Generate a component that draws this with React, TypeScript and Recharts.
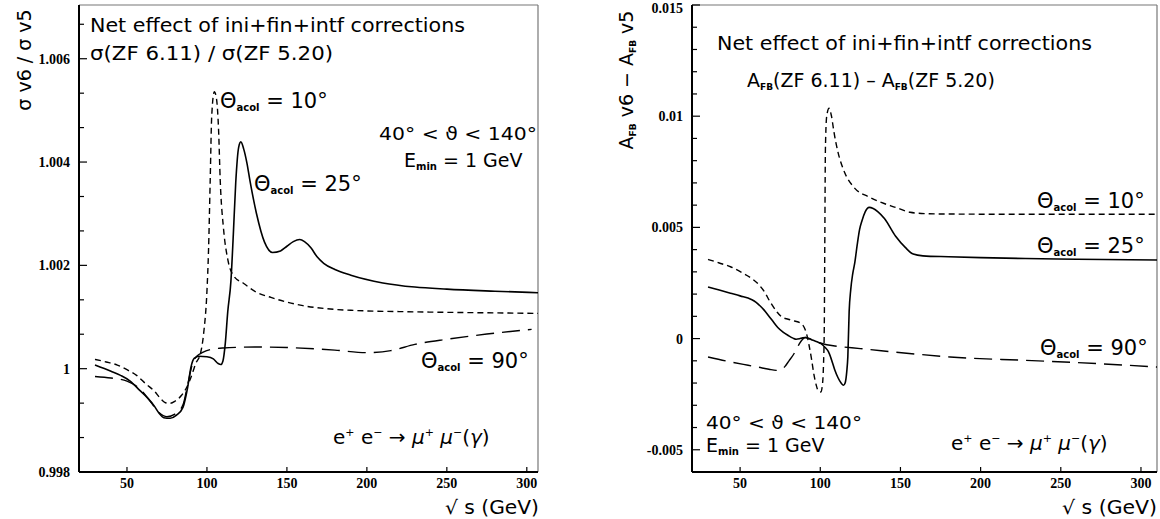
import React from 'react'
import { LineChart, Line, XAxis, YAxis, ReferenceLine } from 'recharts'

// sqrt(s) in GeV
const sigma25: [number, number][] = [
  [30, 1.00007], [40, 0.99995], [46, 0.99987], [52, 0.99976], [58, 0.99958], [63, 0.99943],
  [67, 0.99928], [70, 0.99914], [73, 0.99905], [77, 0.99904], [81, 0.9991], [85, 0.99925],
  [88, 0.99965], [90, 1.00003], [92, 1.0002], [95, 1.00024], [100, 1.00023], [104, 1.00019],
  [107, 1.0001], [108.7, 1.00008], [110, 1.00015], [111.5, 1.0005], [113, 1.0011], [115, 1.0017],
  [116.5, 1.0026], [118, 1.0036], [119.8, 1.00428], [121.2, 1.00439], [123, 1.00425], [125, 1.00398],
  [127, 1.00362], [131, 1.003], [136, 1.00245], [141, 1.00225], [146, 1.00228], [150, 1.00237],
  [154, 1.00246], [158, 1.0025], [161, 1.00246], [165, 1.00234], [169, 1.00216], [173, 1.00204],
  [180, 1.00192], [190, 1.00181], [210, 1.00166], [230, 1.00158], [250, 1.00154], [280, 1.0015],
  [307, 1.00147],
]
const sigma10: [number, number][] = [
  [30, 1.00018], [37, 1.00013], [44, 1.00007], [50, 0.99998], [56, 0.99987], [62, 0.9997],
  [67, 0.99957], [71, 0.99942], [74, 0.99934], [77, 0.99933], [80, 0.99937], [84, 0.99948],
  [88, 0.99968], [91, 0.99992], [93, 1.0001], [96, 1.0003], [98, 1.0007], [100, 1.0015],
  [101, 1.0023], [102, 1.0036], [103, 1.0049], [104.6, 1.00536], [106, 1.00522], [107.3, 1.0046],
  [108.3, 1.00365], [110.4, 1.0027], [113, 1.00212], [116.6, 1.0018], [123, 1.00165], [131, 1.00148],
  [140, 1.00138], [150, 1.00129], [160, 1.00122], [175, 1.00116], [190, 1.00113], [230, 1.0011],
  [280, 1.00108], [307, 1.00107],
]
const sigma90: [number, number][] = [
  [30, 0.99985], [40, 0.99982], [50, 0.99976], [58, 0.99961], [65, 0.99935], [70, 0.99915],
  [75, 0.99907], [80, 0.99912], [85, 0.9993], [88, 0.9997], [91, 1.0001], [94, 1.00025],
  [97, 1.00031], [102, 1.00037], [110, 1.0004], [130, 1.00042], [150, 1.00041], [180, 1.00036],
  [200, 1.00031], [215, 1.00035], [230, 1.00047], [250, 1.00057], [275, 1.00067], [303, 1.00076],
]

const afb25: [number, number][] = [
  [30, 0.00232], [37, 0.00218], [44, 0.00204], [50, 0.00192], [57, 0.00176], [60, 0.00163],
  [62, 0.0015], [65, 0.00128], [67.5, 0.00105], [70, 0.00082], [73.5, 0.0005], [77, 0.00028],
  [80, 0.00014], [83, 0.00002], [85, -0.00003], [87, -0.00001], [89, 0.00003], [91, 0.00005],
  [93, 0.0], [95.5, -0.00008], [98, -0.00014], [100.5, -0.00023], [103, -0.0004], [105, -0.00058],
  [107, -0.00095], [109, -0.0014], [111, -0.00175], [113, -0.002], [114.5, -0.0021], [115.5, -0.002],
  [116.5, -0.0015], [117.2, -0.0008], [118, 0.0012], [119, 0.0022], [120.2, 0.0029], [121.5, 0.0034],
  [123, 0.0042], [124.5, 0.0049], [126, 0.0053], [128, 0.0057], [130.5, 0.0059], [133, 0.00585],
  [136, 0.0057], [140, 0.0054], [147, 0.0046], [153, 0.0041], [158, 0.0038], [164, 0.00372],
  [180, 0.00368], [200, 0.00364], [228, 0.0036], [260, 0.00357], [310, 0.00353],
]
const afb10: [number, number][] = [
  [30, 0.00356], [37, 0.0034], [44, 0.00323], [51, 0.00297], [58, 0.00266], [62, 0.0024],
  [65, 0.00212], [69, 0.00162], [73, 0.0012], [76, 0.00097], [80, 0.00087], [84, 0.00079],
  [88, 0.00068], [90, 0.0005], [91.5, 0.0002], [93, -0.0003], [94.5, -0.0009], [96, -0.0016],
  [97.5, -0.0021], [99, -0.00238], [100.3, -0.0024], [101.3, -0.0021], [102, -0.0012], [102.5, 0.0005],
  [102.8, 0.004], [103.2, 0.0085], [104, 0.01], [105.5, 0.01036], [107, 0.01], [108.5, 0.0093],
  [111, 0.0084], [115, 0.0075], [121, 0.0068], [130, 0.00638], [138, 0.00612], [147, 0.0059],
  [156, 0.00568], [165, 0.00562], [180, 0.0056], [225, 0.00559], [310, 0.00559],
]
const afb90: [number, number][] = [
  [30, -0.00083], [44, -0.00105], [55, -0.0012], [61, -0.00128], [68, -0.00138], [72.5, -0.00143],
  [75.5, -0.0014], [78, -0.00125], [80.5, -0.001], [83, -0.00075], [85, -0.0005], [87, -0.00023],
  [89, -0.00003], [90.5, 0.00005], [93, 0.0], [96, -0.0001], [100, -0.0002], [104, -0.00028],
  [111, -0.00035], [125, -0.00045], [138, -0.00055], [160, -0.0007], [181, -0.00083], [228, -0.00098],
  [274, -0.00113], [310, -0.00128],
]

const xTicks = [50, 100, 150, 200, 250, 300]
const sigmaMajor = [0.998, 1, 1.002, 1.004, 1.006]
const sigmaTicks = [
  0.998, 0.998667, 0.999333, 1, 1.000667, 1.001333, 1.002, 1.002667, 1.003333, 1.004,
  1.004667, 1.005333, 1.006, 1.006667,
]
const afbMajor = [-0.005, 0, 0.005, 0.01, 0.015]
const afbTicks = [
  -0.006, -0.005, -0.004, -0.003, -0.002, -0.001, 0, 0.001, 0.002, 0.003, 0.004, 0.005, 0.006,
  0.007, 0.008, 0.009, 0.01, 0.011, 0.012, 0.013, 0.014, 0.015,
]

const SANS = '"DejaVu Sans", sans-serif'
const SERIF = '"Liberation Serif", "Times New Roman", serif'
const W = 580
const H = 519

const pts = (arr: [number, number][]) => arr.map(([s, v]) => ({ s, v }))

const YTick = (props: any) => {
  const { x, y, payload, majors } = props
  const v = payload.value
  const major = majors.some((m: number) => Math.abs(m - v) < 1e-9)
  const ax = x + 9
  // keep the top label (0.015) inside the picture
  const dy = y < 10 ? 8 : 5
  return (
    <g>
      <line x1={ax} x2={ax + (major ? 8 : 5)} y1={y} y2={y} stroke="#000" strokeWidth={1.2} />
      {major && (
        <text x={x} y={y} dy={dy} textAnchor="end" fontFamily={SERIF} fontWeight="bold" fontSize={14} fill="#000">
          {String(v)}
        </text>
      )}
    </g>
  )
}

const XTick = (props: any) => {
  const { x, y, payload } = props
  const ay = y - 6
  return (
    <g>
      <line x1={x} x2={x} y1={ay} y2={ay - 5} stroke="#000" strokeWidth={1.2} />
      <text x={x} y={y} dy={10} textAnchor="middle" fontFamily={SERIF} fontWeight="bold" fontSize={14} fill="#000">
        {payload.value}
      </text>
    </g>
  )
}

function Panel({ xMax, yDomain, yTicks, yMajors, yWidth, right, series }: any) {
  return (
    <LineChart width={W} height={H} margin={{ top: 5, right, bottom: 17, left: 0 }}>
      <XAxis
        type="number"
        dataKey="s"
        domain={[20, xMax]}
        ticks={xTicks}
        interval={0}
        allowDataOverflow
        height={30}
        tickSize={0}
        tickMargin={6}
        tickLine={false}
        axisLine={{ stroke: '#000', strokeWidth: 2 }}
        tick={<XTick />}
      />
      <YAxis
        type="number"
        domain={yDomain}
        ticks={yTicks}
        interval={0}
        allowDataOverflow
        width={yWidth}
        tickSize={0}
        tickMargin={9}
        tickLine={false}
        axisLine={{ stroke: '#000', strokeWidth: 2 }}
        tick={<YTick majors={yMajors} />}
      />
      <ReferenceLine y={yDomain[1]} stroke="#777" strokeWidth={1.2} />
      <ReferenceLine x={xMax} stroke="#777" strokeWidth={1.2} />
      <Line data={pts(series[2])} dataKey="v" type="monotone" stroke="#000" strokeWidth={1.4}
        strokeDasharray="18 8" dot={false} activeDot={false} isAnimationActive={false} />
      <Line data={pts(series[1])} dataKey="v" type="monotone" stroke="#000" strokeWidth={1.4}
        strokeDasharray="6 4" dot={false} activeDot={false} isAnimationActive={false} />
      <Line data={pts(series[0])} dataKey="v" type="monotone" stroke="#000" strokeWidth={1.6}
        dot={false} activeDot={false} isAnimationActive={false} />
    </LineChart>
  )
}

const Theta = ({ x, y, deg }: { x: number; y: number; deg: string }) => (
  <text x={x} y={y} fontFamily={SANS} fontSize={21} fill="#000">
    Θ<tspan fontSize={10} fontWeight="bold" dy={3}>acol</tspan>
    <tspan dy={-3}>{` = ${deg}°`}</tspan>
  </text>
)

const Emin = ({ x, y }: { x: number; y: number }) => (
  <text x={x} y={y} fontFamily={SANS} fontSize={19} fill="#000">
    E<tspan fontSize={10} fontWeight="bold" dy={3}>min</tspan>
    <tspan dy={-3}> = 1 GeV</tspan>
  </text>
)

const Process = ({ x, y }: { x: number; y: number }) => (
  <text x={x} y={y} fontFamily={SANS} fontSize={20} fill="#000">
    e<tspan fontSize={11} dy={-8}>+</tspan>
    <tspan dy={8}> e</tspan>
    <tspan fontSize={11} dy={-8}>−</tspan>
    <tspan dy={8}> → </tspan>
    <tspan fontStyle="italic">μ</tspan>
    <tspan fontSize={11} dy={-8}>+</tspan>
    <tspan dy={8} fontStyle="italic"> μ</tspan>
    <tspan fontSize={11} dy={-8}>−</tspan>
    <tspan dy={8}>(</tspan>
    <tspan fontStyle="italic">γ</tspan>
    <tspan>)</tspan>
  </text>
)

const Overlay = () => (
  <svg width={1160} height={519} style={{ position: 'absolute', left: 0, top: 0, pointerEvents: 'none' }}>
    {/* left panel */}
    <text x={90} y={32} fontFamily={SANS} fontSize={19} textLength={375} lengthAdjust="spacingAndGlyphs">
      Net effect of ini+fin+intf corrections
    </text>
    <text x={90} y={60} fontFamily={SANS} fontSize={19} textLength={243} lengthAdjust="spacingAndGlyphs">
      σ(ZF 6.11) / σ(ZF 5.20)
    </text>
    <Theta x={220} y={108} deg="10" />
    <Theta x={254} y={191} deg="25" />
    <text x={379} y={140} fontFamily={SANS} fontSize={18} textLength={158} lengthAdjust="spacingAndGlyphs">
      40° &lt; ϑ &lt; 140°
    </text>
    <Emin x={404} y={167} />
    <Theta x={421} y={368} deg="90" />
    <Process x={333} y={444} />
    <text x={445} y={514} fontFamily={SANS} fontSize={19} textLength={94} lengthAdjust="spacingAndGlyphs">
      √ s (GeV)
    </text>
    <text transform="translate(31,60) rotate(-90)" textAnchor="middle" fontFamily={SANS} fontSize={19}>
      σ v6 / σ v5
    </text>

    {/* right panel */}
    <text x={717} y={50} fontFamily={SANS} fontSize={19} textLength={375} lengthAdjust="spacingAndGlyphs">
      Net effect of ini+fin+intf corrections
    </text>
    <text x={747} y={87} fontFamily={SANS} fontSize={19} fill="#000">
      A<tspan fontSize={9} fontWeight="bold" dy={3}>FB</tspan>
      <tspan dy={-3}>(ZF 6.11) – A</tspan>
      <tspan fontSize={9} fontWeight="bold" dy={3}>FB</tspan>
      <tspan dy={-3}>(ZF 5.20)</tspan>
    </text>
    <Theta x={1037} y={208} deg="10" />
    <Theta x={1037} y={253} deg="25" />
    <Theta x={1040} y={355} deg="90" />
    <text x={706} y={429} fontFamily={SANS} fontSize={18} textLength={156} lengthAdjust="spacingAndGlyphs">
      40° &lt; ϑ &lt; 140°
    </text>
    <Emin x={706} y={452} />
    <Process x={951} y={450} />
    <text x={1062} y={514} fontFamily={SANS} fontSize={19} textLength={95} lengthAdjust="spacingAndGlyphs">
      √ s (GeV)
    </text>
    <text transform="translate(633,80) rotate(-90)" textAnchor="middle" fontFamily={SANS} fontSize={19}>
      A<tspan fontSize={9} fontWeight="bold" dy={3}>FB</tspan>
      <tspan dy={-3}> v6 − A</tspan>
      <tspan fontSize={9} fontWeight="bold" dy={3}>FB</tspan>
      <tspan dy={-3}> v5</tspan>
    </text>
  </svg>
)

export default function App() {
  return (
    <div style={{ position: 'absolute', left: 0, top: 0, width: 1160, height: 519, background: '#fff', overflow: 'hidden' }}>
      <div style={{ position: 'absolute', left: 0, top: 0 }}>
        <Panel xMax={307} yDomain={[0.998, 1.00704]} yTicks={sigmaTicks} yMajors={sigmaMajor}
          yWidth={79} right={42} series={[sigma25, sigma10, sigma90]} />
      </div>
      <div style={{ position: 'absolute', left: 580, top: 0 }}>
        <Panel xMax={310} yDomain={[-0.006, 0.015]} yTicks={afbTicks} yMajors={afbMajor}
          yWidth={112} right={3} series={[afb25, afb10, afb90]} />
      </div>
      <Overlay />
    </div>
  )
}
